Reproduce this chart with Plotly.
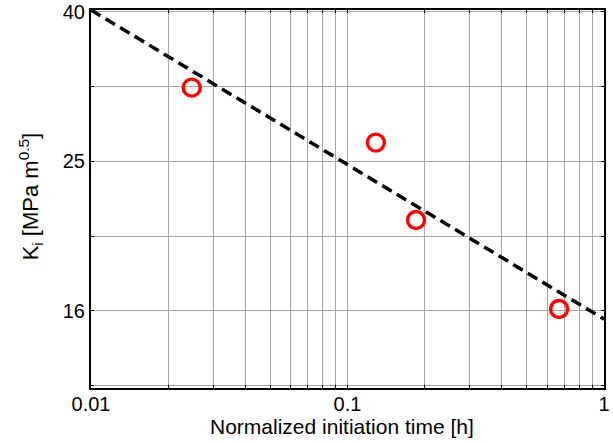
import plotly.graph_objects as go

# measured data
time_h = [0.0247, 0.129, 0.185, 0.668]
k_i = [31.5, 26.6, 20.96, 15.94]

# fitted trend line (end points)
fit_time = [0.01, 1.0]
fit_k = [40.0, 15.45]

# tick labels
x_tickvals = [0.01, 0.1, 1]
x_ticktext = ["0.01", "0.1", "1"]
x_minor = [0.02, 0.03, 0.04, 0.05, 0.06, 0.07, 0.08, 0.09,
           0.2, 0.3, 0.4, 0.5, 0.6, 0.7, 0.8, 0.9]
y_tickvals = [15.85, 25.12, 39.81]
y_ticktext = ["16", "25", "40"]
y_minor = [12.59, 19.95, 31.62]

x_title = "Normalized initiation time [h]"
y_title = "K<sub>i</sub> [MPa m<sup>0.5</sup>]"

fig = go.Figure()
fig.add_trace(go.Scatter(
    x=fit_time, y=fit_k, mode="lines",
    line=dict(color="black", width=3.5, dash="11px,6px"),
    showlegend=False, cliponaxis=True))
fig.add_trace(go.Scatter(
    x=time_h, y=k_i, mode="markers",
    marker=dict(symbol="circle-open", size=17, color="#ff0000",
                line=dict(width=3.4, color="#ff0000")),
    showlegend=False))

grid = "#a6a6a6"
font = "Liberation Sans, Arial, sans-serif"

fig.update_xaxes(
    type="log", range=[-2, 0], automargin=False,
    tickvals=x_tickvals, ticktext=x_ticktext,
    ticks="inside", ticklen=3, tickcolor="black", ticklabelstandoff=-3,
    showline=True, linecolor="black", linewidth=2, mirror="ticks",
    showgrid=True, gridcolor=grid, gridwidth=1,
    minor=dict(tickvals=x_minor, ticks="inside", ticklen=3, tickcolor="black",
               showgrid=True, gridcolor=grid, gridwidth=1),
    tickfont=dict(family=font, size=20, color="black"),
    zeroline=False)

fig.update_yaxes(
    type="log", range=[1.0969, 1.6021], automargin=False,
    tickvals=y_tickvals, ticktext=y_ticktext,
    ticks="inside", ticklen=3, tickcolor="black",
    showline=True, linecolor="black", linewidth=2, mirror="ticks",
    showgrid=True, gridcolor=grid, gridwidth=1,
    minor=dict(tickvals=y_minor, ticks="inside", ticklen=3, tickcolor="black",
               showgrid=True, gridcolor=grid, gridwidth=1),
    tickfont=dict(family=font, size=20, color="black"),
    zeroline=False)

fig.add_annotation(
    text=x_title, xref="paper", yref="paper", x=0.49, y=0,
    xanchor="center", yanchor="top", yshift=-25, showarrow=False,
    font=dict(family=font, size=21, color="black"))
fig.add_annotation(
    text=y_title, xref="paper", yref="paper", x=0, y=0.507,
    xanchor="center", yanchor="middle", xshift=-61, textangle=-90,
    showarrow=False, font=dict(family=font, size=22, color="black"))

fig.update_layout(
    width=613, height=443,
    margin=dict(l=91, r=9, t=10, b=55),
    paper_bgcolor="white", plot_bgcolor="white",
    font=dict(family=font, color="black"))

fig.write_html(
    "out.html",
    config={"displayModeBar": False},
    post_script="document.body.style.margin='0';document.body.style.padding='0';"
                "document.body.style.overflow='hidden';")
